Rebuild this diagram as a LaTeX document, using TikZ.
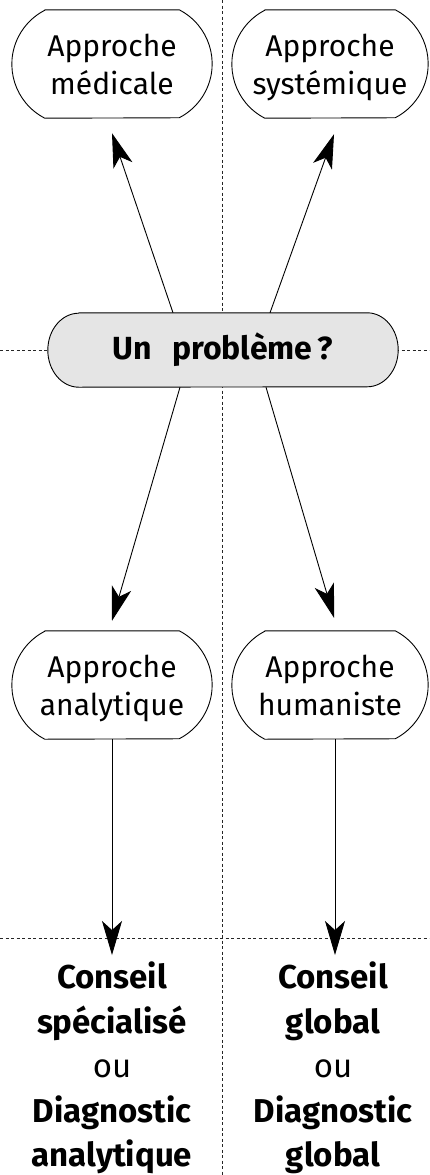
\documentclass[tikz,border=0pt]{standalone}
\usepackage{fontspec}
\setmainfont{Fira Sans}
\usetikzlibrary{arrows.meta,backgrounds}

\tikzset{
  guide/.style={draw=black!85, line width=0.8pt, dash pattern=on 3pt off 2.5pt},
  approach/.style={inner sep=0pt, minimum width=200pt, minimum height=108pt,
    text depth=0pt, align=center, font=\fontsize{30}{38}\selectfont},
  hub/.style={inner sep=0pt, minimum width=350pt, minimum height=74pt,
    font=\fontsize{32}{40}\selectfont\bfseries},
  outline/.style={draw=black, line width=0.9pt, line join=round},
  link/.style={line width=0.9pt, -{Stealth[length=34pt,width=20pt,inset=9pt]}},
  verdict/.style={inner sep=0pt, align=center, anchor=north,
    font=\fontsize{33}{44.5}\selectfont},
}

% capsule outline: flat top and bottom, ends made of wide circular arcs
\newcommand\capsule[2][]{%
  \path[outline,#1]
    ([xshift=33pt]#2.north west) -- ([xshift=-33pt]#2.north east)
    arc[start angle=62.8, end angle=-62.8, radius=60.7pt]
    -- ([xshift=33pt]#2.south west)
    arc[start angle=242.8, end angle=117.2, radius=60.7pt] -- cycle;}

% pill outline with elliptical ends
\newcommand\pill[4][]{%
  \path[outline,#1] ([xshift=#2]#4.north west) -- ([xshift=-#2]#4.north east)
    arc[start angle=90, end angle=-90, x radius=#2, y radius=#3]
    -- ([xshift=#2]#4.south west)
    arc[start angle=270, end angle=90, x radius=#2, y radius=#3] -- cycle;}

\begin{document}
\begin{tikzpicture}[x=1pt,y=-1pt]
\useasboundingbox (0,0) rectangle (429,1175);

% nodes
\node[approach] (med) at (112,64)  {Approche\\médicale};
\node[approach, minimum width=196pt] (sys) at (330,64) {Approche\\systémique};
\node[hub] (pb) at (223,350) {Un\hspace{20pt}problème\,?};
\node[approach] (ana) at (112,685) {Approche\\analytique};
\node[approach, minimum width=196pt] (hum) at (330,685) {Approche\\humaniste};

\node[verdict] (resA) at (112,962) {\textbf{Conseil}\\\textbf{spécialisé}\\ou\\\textbf{Diagnostic}\\\textbf{analytique}};
\node[verdict] (resB) at (333,962) {\textbf{Conseil}\\\textbf{global}\\ou\\\textbf{Diagnostic}\\\textbf{global}};

% guides and outlines behind the nodes
\begin{scope}[on background layer]
  \draw[guide] (222,0) -- (222,1175);
  \draw[guide] (0,350) -- (429,350);
  \draw[guide] (0,938) -- (429,938);
  \capsule{med}
  \capsule{sys}
  \capsule{ana}
  \capsule{hum}
  \pill[fill=black!10]{31pt}{37pt}{pb}
\end{scope}

% connectors
\coordinate (tipA) at (112,955);
\coordinate (tipB) at (335,955);
\draw[link] ([xshift=-50pt]pb.north) -- ([yshift=-15pt]med.south);
\draw[link] ([xshift=47pt]pb.north)  -- ([xshift=4pt,yshift=-16pt]sys.south);
\draw[link] ([xshift=-43pt]pb.south) -- ([yshift=10pt]ana.north);
\draw[link] ([xshift=43pt]pb.south)  -- ([xshift=4pt,yshift=13pt]hum.north);
\draw[link] (ana.south) -- (tipA);
\draw[link] ([xshift=5pt]hum.south) -- (tipB);
\end{tikzpicture}
\end{document}
